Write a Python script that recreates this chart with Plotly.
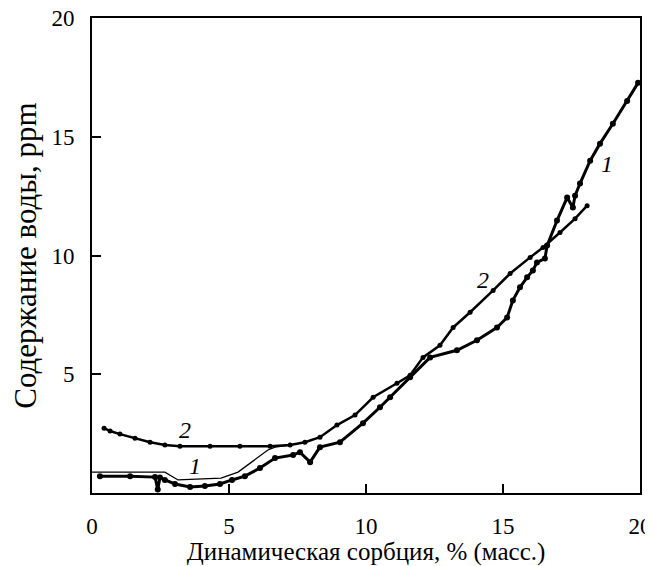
import plotly.graph_objects as go

# Curve 1 (thick, beaded)
c1_x = [0.29, 1.39, 2.30, 2.40, 2.48, 2.66, 3.03, 3.58, 4.12, 4.67, 5.11, 5.58, 6.13, 6.68, 7.34, 7.59,
        7.96, 8.32, 9.05, 9.89, 10.51, 10.88, 11.61, 12.34, 13.32, 14.05, 14.78, 15.15, 15.36, 15.62,
        15.88, 16.09, 16.24, 16.53, 16.61, 16.97, 17.34, 17.55, 17.63, 17.81, 18.18, 18.54, 19.01,
        19.53, 19.93]
c1_y = [0.71, 0.71, 0.67, 0.15, 0.65, 0.55, 0.38, 0.25, 0.29, 0.38, 0.55, 0.71, 1.05, 1.47, 1.60, 1.72,
        1.30, 1.93, 2.14, 2.94, 3.61, 4.03, 4.87, 5.71, 6.01, 6.43, 6.97, 7.39, 8.11, 8.66,
        9.08, 9.37, 9.71, 9.87, 10.42, 11.47, 12.44, 12.02, 12.52, 13.03, 13.99, 14.71, 15.55,
        16.51, 17.27]

# Curve 1, thin variant at low sorption
c1t_x = [0.0, 2.66, 3.14, 4.12, 4.71, 5.33, 5.95, 6.42, 6.68, 7.23]
c1t_y = [0.88, 0.88, 0.55, 0.59, 0.63, 0.88, 1.39, 1.81, 1.93, 2.02]

# Curve 2
c2_x = [0.44, 0.66, 1.02, 1.57, 2.12, 2.66, 3.21, 4.31, 5.40, 6.50, 7.23, 7.77, 8.32, 8.94, 9.60,
        10.26, 11.13, 11.61, 12.08, 12.70, 13.18, 13.80, 14.64, 15.26, 15.99, 16.46, 17.08, 17.63, 18.07]
c2_y = [2.73, 2.61, 2.48, 2.31, 2.14, 2.02, 1.97, 1.97, 1.97, 1.97, 2.02, 2.14, 2.35, 2.86, 3.28,
        4.03, 4.62, 4.96, 5.71, 6.22, 6.97, 7.61, 8.53, 9.24, 9.92, 10.34, 10.97, 11.55, 12.10]

label_text = ["2", "1", "2", "1"]
label_x = [3.4, 3.76, 14.27, 18.8]
label_y = [2.65, 1.13, 8.95, 13.87]

x_ticks = [0, 5, 10, 15, 20]
y_ticks = [5, 10, 15, 20]

FAM = "Liberation Serif"

fig = go.Figure()
fig.add_trace(go.Scatter(x=c1t_x, y=c1t_y, mode="lines",
                         line=dict(color="black", width=1.3), showlegend=False))
fig.add_trace(go.Scatter(x=c2_x, y=c2_y, mode="lines+markers",
                         line=dict(color="black", width=2.5),
                         marker=dict(color="black", size=5), showlegend=False))
fig.add_trace(go.Scatter(x=c1_x, y=c1_y, mode="lines+markers",
                         line=dict(color="black", width=3),
                         marker=dict(color="black", size=6), showlegend=False))

for t, x, y in zip(label_text, label_x, label_y):
    fig.add_annotation(x=x, y=y, text=f"<i>{t}</i>", showarrow=False,
                       font=dict(family=FAM, size=24, color="black"))

fig.update_layout(
    template="simple_white",
    width=645, height=558,
    margin=dict(l=84, r=13, t=10, b=73, autoexpand=False),
    paper_bgcolor="white", plot_bgcolor="white",
    font=dict(family=FAM, size=22, color="black"),
)
fig.update_xaxes(range=[0, 20], tickvals=x_ticks, ticks="inside", ticklen=9, tickwidth=2,
                 tickcolor="black", ticklabelstandoff=11, ticklabeloverflow="allow",
                 showline=True, linewidth=2, linecolor="black", mirror=True,
                 showgrid=False, zeroline=False, automargin=False,
                 tickfont=dict(family=FAM, size=23, color="black"),
                 title=dict(text="Динамическая сорбция, % (масс.)",
                            font=dict(family=FAM, size=25, color="black"), standoff=13))
fig.update_yaxes(range=[0, 20], tickvals=y_ticks, ticks="inside", ticklen=9, tickwidth=2,
                 tickcolor="black", ticklabelstandoff=11, ticklabeloverflow="allow",
                 showline=True, linewidth=2, linecolor="black", mirror=True,
                 showgrid=False, zeroline=False, automargin=False,
                 tickfont=dict(family=FAM, size=23, color="black"),
                 title=dict(text="Содержание воды, ppm",
                            font=dict(family=FAM, size=31, color="black"), standoff=7))

fig.write_html("out.html")
